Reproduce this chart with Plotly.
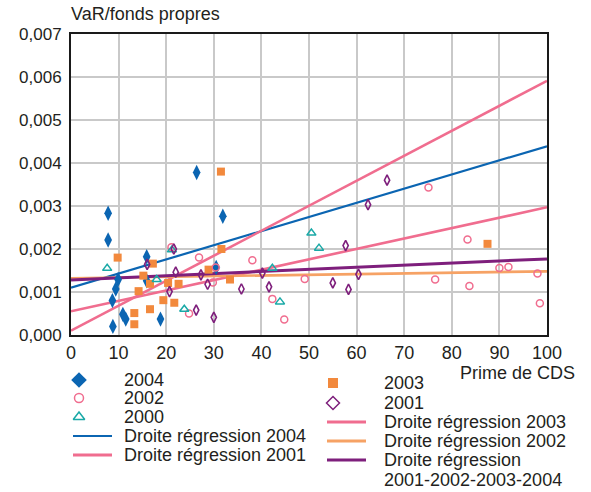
import plotly.graph_objects as go

# ---------------- data (Prime de CDS, VaR/fonds propres in 1e-3 units) ----------------
x_2004 = [7.8, 7.8, 8.7, 8.8, 9.4, 9.9, 10.9, 11.5, 15.9, 15.9, 18.8, 26.4, 30.5, 31.9]
y_2004 = [2.83, 2.21, 0.80, 0.20, 1.07, 1.29, 0.48, 0.37, 1.82, 1.26, 0.37, 3.78, 1.57, 2.76]

x_2003 = [9.8, 13.3, 13.3, 14.2, 15.2, 16.6, 16.6, 17.2, 19.4, 20.4, 21.7, 22.6, 28.9, 31.5, 31.6, 33.4, 87.5]
y_2003 = [1.80, 0.51, 0.25, 1.02, 1.38, 1.19, 0.60, 1.66, 0.81, 1.21, 0.75, 1.19, 1.52, 3.80, 2.00, 1.29, 2.12]

x_2002 = [21.1, 24.8, 26.9, 29.8, 30.4, 38.1, 42.3, 44.8, 49.1, 75.1, 76.5, 83.3, 83.7, 90.0, 91.9, 98.0, 98.5]
y_2002 = [2.04, 0.50, 1.80, 1.22, 1.57, 1.74, 0.84, 0.36, 1.30, 3.43, 1.29, 2.22, 1.14, 1.56, 1.58, 1.43, 0.74]

x_2000 = [7.6, 18.0, 21.2, 23.8, 42.3, 43.9, 50.5, 52.1]
y_2000 = [1.55, 1.29, 1.98, 0.60, 1.55, 0.77, 2.37, 2.02]

x_2001 = [16.0, 20.7, 21.6, 22.0, 26.3, 27.3, 28.7, 30.0, 35.8, 40.2, 41.6, 55.0, 57.7, 58.3, 60.4, 62.4, 66.4]
y_2001 = [1.64, 1.01, 2.00, 1.46, 0.58, 1.40, 1.18, 0.41, 1.07, 1.44, 1.12, 1.21, 2.08, 1.06, 1.41, 3.03, 3.60]

# regression lines: intercept and slope (1e-3 units)
reg_names = ["Droite régression 2004", "Droite régression 2001", "Droite régression 2003",
             "Droite régression 2002", "Droite régression 2001-2002-2003-2004"]
reg_intercepts = [1.10, 0.10, 0.55, 1.32, 1.28]
reg_slopes = [0.0329, 0.0581, 0.0242, 0.0016, 0.0049]
reg_x = [0, 100]

x_ticks = list(range(0, 101, 10))
y_ticks = [0, 1, 2, 3, 4, 5, 6, 7]
y_tick_labels = ["0,000", "0,001", "0,002", "0,003", "0,004", "0,005", "0,006", "0,007"]

SCALE = 1e-3

# ---------------- styles ----------------
BLUE = "#0b65b2"
ORANGE = "#f2893d"
PINK = "#f06d8f"
TEAL = "#1aa9a7"
PURPLE = "#7e1f7c"
ORANGE_LINE = "#f6a265"
TXT = "#231f20"
FONT = "Liberation Sans, Arial, sans-serif"

reg_colors = [BLUE, PINK, PINK, ORANGE_LINE, PURPLE]
reg_widths = [2.2, 2.6, 2.6, 2.6, 3.0]

W, H = 591, 492          # nominal canvas (layout positions below are in these units)
X0, X1 = 71, 547
Y0, Y1 = 335, 34

fig = go.Figure()

for name, b, a, c, w in zip(reg_names, reg_intercepts, reg_slopes, reg_colors, reg_widths):
    fig.add_trace(go.Scatter(x=reg_x, y=[(b + a * xv) * SCALE for xv in reg_x], mode="lines",
                             line=dict(color=c, width=w), name=name, showlegend=False,
                             xaxis="x", yaxis="y"))

series = [
    ("2004", x_2004, y_2004, dict(symbol="diamond-tall", size=11, color=BLUE)),
    ("2003", x_2003, y_2003, dict(symbol="square", size=8, color=ORANGE)),
    ("2002", x_2002, y_2002, dict(symbol="circle-open", size=7, color=PINK, line=dict(width=1.5, color=PINK))),
    ("2000", x_2000, y_2000, dict(symbol="triangle-up-open", size=8, color=TEAL, line=dict(width=1.5, color=TEAL))),
    ("2001", x_2001, y_2001, dict(symbol="diamond-tall-open", size=7.5, color=PURPLE, line=dict(width=1.6, color=PURPLE))),
]
for name, xs, ys, mk in series:
    fig.add_trace(go.Scatter(x=xs, y=[v * SCALE for v in ys], mode="markers", marker=mk,
                             name=name, showlegend=False, xaxis="x", yaxis="y", cliponaxis=False))

# ---------------- manual legend on a nominal-pixel overlay axis ----------------
leg_items = [
    # (marker x, line x0, line x1, text x, y, kind, style, label)
    (79, 73, 112, 123, 380, "marker", dict(symbol="diamond", size=12, color=BLUE), "2004"),
    (79, 73, 112, 123, 398, "marker", dict(symbol="circle-open", size=9, color=PINK, line=dict(width=1.5, color=PINK)), "2002"),
    (79, 73, 112, 123, 417, "marker", dict(symbol="triangle-up-open", size=10, color=TEAL, line=dict(width=1.5, color=TEAL)), "2000"),
    (79, 73, 112, 123, 436, "line", dict(color=BLUE, width=2), "Droite régression 2004"),
    (79, 73, 112, 123, 455, "line", dict(color=PINK, width=3), "Droite régression 2001"),
    (333, 327, 366, 383, 383, "marker", dict(symbol="square", size=10, color=ORANGE), "2003"),
    (333, 327, 366, 383, 403, "marker", dict(symbol="diamond-open", size=10, color=PURPLE, line=dict(width=1.5, color=PURPLE)), "2001"),
    (333, 327, 366, 383, 422, "line", dict(color=PINK, width=3), "Droite régression 2003"),
    (333, 327, 366, 383, 441, "line", dict(color=ORANGE_LINE, width=3), "Droite régression 2002"),
    (333, 327, 366, 383, 460, "line", dict(color=PURPLE, width=3), "Droite régression"),
]
annotations = []
for mx, lx0, lx1, tx, yy, kind, st, label in leg_items:
    if kind == "marker":
        fig.add_trace(go.Scatter(x=[mx], y=[yy], mode="markers", marker=st, showlegend=False,
                                 xaxis="x2", yaxis="y2", hoverinfo="skip"))
    else:
        fig.add_trace(go.Scatter(x=[lx0, lx1], y=[yy, yy], mode="lines", line=st, showlegend=False,
                                 xaxis="x2", yaxis="y2", hoverinfo="skip"))
    annotations.append(dict(x=tx, y=yy, xref="x2", yref="y2", text=label, showarrow=False,
                            xanchor="left", yanchor="middle", borderpad=0,
                            font=dict(size=18, color=TXT, family=FONT)))
annotations.append(dict(x=383, y=480, xref="x2", yref="y2", text="2001-2002-2003-2004", showarrow=False,
                        xanchor="left", yanchor="middle", borderpad=0, font=dict(size=18, color=TXT, family=FONT)))
annotations.append(dict(x=70, y=14, xref="x2", yref="y2", text="VaR/fonds propres", showarrow=False,
                        xanchor="left", yanchor="middle", borderpad=0, font=dict(size=18, color=TXT, family=FONT)))
annotations.append(dict(x=576, y=373, xref="x2", yref="y2", text="Prime de CDS", showarrow=False,
                        xanchor="right", yanchor="middle", borderpad=0, font=dict(size=18, color=TXT, family=FONT)))

fig.update_layout(
    autosize=True,
    margin=dict(l=0, r=0, t=0, b=0, pad=0, autoexpand=False),
    paper_bgcolor="white",
    plot_bgcolor="rgba(0,0,0,0)",
    showlegend=False,
    font=dict(family=FONT, size=18, color=TXT),
    annotations=annotations,
    xaxis=dict(domain=[X0 / W, X1 / W], range=[0, 100], tickvals=x_ticks,
               showgrid=True, gridcolor="#c9c9c9", gridwidth=1.6,
               showline=True, linecolor="#1a1a1a", linewidth=2, mirror=True,
               ticks="", zeroline=False, anchor="y", tickfont=dict(size=18, color=TXT),
               automargin=False, fixedrange=True),
    yaxis=dict(domain=[1 - Y0 / H, 1 - Y1 / H], range=[0, 0.007],
               tickvals=[v * SCALE for v in y_ticks], ticktext=y_tick_labels,
               showgrid=True, gridcolor="#c9c9c9", gridwidth=1.6,
               showline=True, linecolor="#1a1a1a", linewidth=2, mirror=True,
               ticks="", zeroline=False, anchor="x", tickfont=dict(size=17, color=TXT),
               ticklabelstandoff=4, automargin=False, fixedrange=True),
    xaxis2=dict(domain=[0, 1], range=[0, W], visible=False, anchor="y2", fixedrange=True, automargin=False),
    yaxis2=dict(domain=[0, 1], range=[H, 0], visible=False, anchor="x2", fixedrange=True, automargin=False),
)

fig.write_html("out.html", config=dict(displayModeBar=False, responsive=True),
               default_width="100vw", default_height="100vh",
               post_script="document.documentElement.style.margin='0';document.body.style.margin='0';"
                           "document.body.style.overflow='hidden';"
                           "var d=document.getElementsByClassName('plotly-graph-div')[0];"
                           "Plotly.Plots.resize(d);")
